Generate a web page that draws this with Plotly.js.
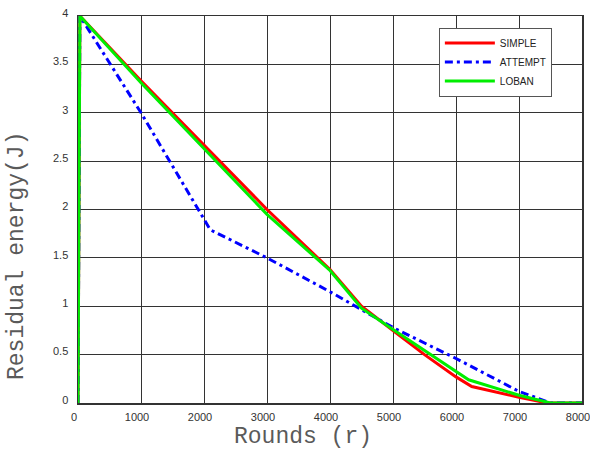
<!DOCTYPE html>
<html>
<head>
<meta charset="utf-8">
<script src="https://cdn.plot.ly/plotly-3.0.1.min.js"></script>
<style>html,body{margin:0;padding:0;background:#fff;}#chart{width:590px;height:449px;}</style>
</head>
<body>
<div id="chart"></div>
<script>
const simpleX = [0, 30, 1000, 2000, 3000, 4000, 4500, 5000, 5500, 6000, 6250, 7000, 7450, 8000];
const simpleY = [0, 4, 3.33, 2.66, 2.0, 1.38, 1.0, 0.75, 0.5, 0.27, 0.17, 0.06, 0, 0];
const attemptX = [0, 30, 1000, 2100, 3000, 4000, 5000, 6000, 7000, 7500, 8000];
const attemptY = [0, 4, 3.0, 1.79, 1.5, 1.15, 0.78, 0.46, 0.12, 0, 0];
const lobanX = [0, 30, 1000, 2000, 3000, 4000, 4500, 5000, 5500, 6000, 6200, 7000, 7500, 8000];
const lobanY = [0, 4, 3.31, 2.63, 1.95, 1.37, 0.98, 0.76, 0.54, 0.32, 0.24, 0.08, 0, 0];
const xTicks = [0, 1000, 2000, 3000, 4000, 5000, 6000, 7000, 8000];
const yTicks = [0, 0.5, 1, 1.5, 2, 2.5, 3, 3.5, 4];
const xTitle = 'Rounds (r)';
const yTitle = 'Residual energy(J)';

const traces = [
  {x: simpleX, y: simpleY, name: 'SIMPLE', mode: 'lines', line: {color: '#ff0000', width: 3}},
  {x: attemptX, y: attemptY, name: 'ATTEMPT', mode: 'lines', line: {color: '#0000ff', width: 3, dash: '8px,4px,3px,4px'}},
  {x: lobanX, y: lobanY, name: 'LOBAN', mode: 'lines', line: {color: '#00ee00', width: 3}}
];

const titleFont = {family: 'Liberation Mono, Courier New, monospace', size: 23, color: '#5a5a5a'};
const tickFont = {family: 'Liberation Sans, Arial, sans-serif', size: 11, color: '#333'};

const layout = {
  width: 590, height: 449,
  margin: {l: 78, r: 8, t: 16, b: 46},
  paper_bgcolor: '#fff', plot_bgcolor: '#fff',
  showlegend: true,
  legend: {
    x: 0.716, y: 0.97, xanchor: 'left', yanchor: 'top',
    bgcolor: '#fff', bordercolor: '#555', borderwidth: 1,
    font: {family: 'Liberation Sans, Arial, sans-serif', size: 10, color: '#222'},
    itemwidth: 50, tracegroupgap: 0
  },
  xaxis: {
    range: [0, 8000], tickvals: xTicks, ticktext: xTicks.map(String),
    showgrid: true, gridcolor: '#333', gridwidth: 1,
    showline: true, linecolor: '#333', linewidth: 1.5, mirror: true,
    zeroline: false, ticks: '',
    ticklabelshift: -4, ticklabeloverflow: 'allow', ticklabelstandoff: 3,
    tickfont: tickFont
  },
  yaxis: {
    range: [0, 4], tickvals: yTicks, ticktext: yTicks.map(String),
    showgrid: true, gridcolor: '#333', gridwidth: 1,
    showline: true, linecolor: '#333', linewidth: 1.5, mirror: true,
    zeroline: false, ticks: '',
    ticklabelstandoff: 6, ticklabelshift: -3,
    tickfont: tickFont
  },
  annotations: [
    {text: xTitle, xref: 'paper', yref: 'paper', x: (303 - 78) / 504, y: (403 - 437) / 387,
     xanchor: 'center', yanchor: 'middle', showarrow: false, font: titleFont},
    {text: yTitle, xref: 'paper', yref: 'paper', x: (17 - 78) / 504, y: (403 - 256) / 387,
     xanchor: 'center', yanchor: 'middle', textangle: -90, showarrow: false, font: titleFont}
  ]
};

Plotly.newPlot('chart', traces, layout, {displayModeBar: false, staticPlot: true});
</script>
</body>
</html>
